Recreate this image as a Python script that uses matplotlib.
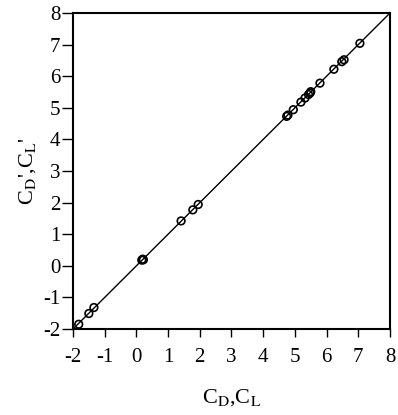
"""Parity plot of C_D', C_L' against C_D, C_L."""
import numpy as np
from matplotlib import pyplot as plt

# values
cd_cl = [7.05, 6.55, 6.48, 6.23, 5.79, 5.48, 5.43, 5.50, 5.32, 5.19, 4.95, 4.74, 4.78,
         1.95, 1.78, 1.41, 0.17, 0.20, 0.22, -1.34, -1.50, -1.82]
cd_cl_prime = [7.04, 6.52, 6.46, 6.22, 5.78, 5.47, 5.42, 5.51, 5.31, 5.18, 4.94, 4.73, 4.77,
               1.94, 1.77, 1.42, 0.18, 0.21, 0.19, -1.32, -1.51, -1.85]
parity_line = [-2, 8]
ticks = list(range(-2, 9))

plt.rcParams["font.family"] = ["Liberation Serif", "DejaVu Serif"]
plt.rcParams["mathtext.fontset"] = "stix"
plt.rcParams["axes.unicode_minus"] = False

fig = plt.figure(figsize=(3.98, 4.15), dpi=100)
ax = fig.add_axes([73 / 398, 1 - 329 / 415, 317 / 398, 316 / 415])

ax.plot(parity_line, parity_line, color="black", lw=1.0)
ax.scatter(cd_cl, cd_cl_prime, s=30, facecolors="none", edgecolors="black", linewidths=1.2, zorder=3)

ax.set_xlim(-2, 8)
ax.set_ylim(-2, 8)
ax.set_xticks(ticks)
ax.set_yticks(ticks)
ax.tick_params(direction="out", width=1, labelsize=15)
ax.tick_params(axis="x", length=6, pad=8)
ax.tick_params(axis="y", length=8, pad=1)
for s in ax.spines.values():
    s.set_linewidth(1.5)

ax.set_xlabel(r"C$_{\mathrm{D}}$,C$_{\mathrm{L}}$", fontsize=16, labelpad=14)
ax.set_ylabel(r"C$_{\mathrm{D}}$',C$_{\mathrm{L}}$'", fontsize=16, labelpad=4)

fig.savefig("out.png", dpi=100)
